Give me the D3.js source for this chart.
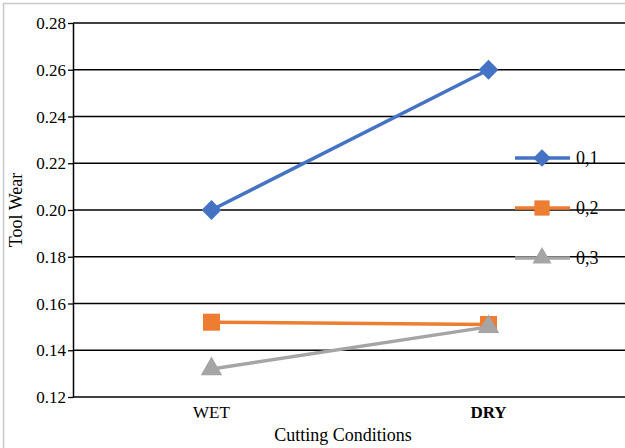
<!DOCTYPE html>
<html>
<head>
<meta charset="utf-8">
<script src="https://cdn.jsdelivr.net/npm/d3@7"></script>
</head>
<body style="margin:0;background:#fff">
<div id="chart"></div>
<script>
// Chart data
const conditions = ["WET", "DRY"];
const seriesNames = ["0,1", "0,2", "0,3"];
const wear01 = [0.200, 0.260];
const wear02 = [0.152, 0.151];
const wear03 = [0.132, 0.150];
const yTicks = [0.12, 0.14, 0.16, 0.18, 0.20, 0.22, 0.24, 0.26, 0.28];

const colours = ["#4472C4", "#ED7D31", "#A5A5A5"];
const symbols = [d3.symbolDiamond2, d3.symbolSquare, d3.symbolTriangle];
const symbolSizes = [250, 290, 200];
const FONT = '"Liberation Serif"';

const W = 625, H = 448;
const margin = {top: 23, right: -2, bottom: 51, left: 73};
const width = W - margin.left - margin.right;
const height = H - margin.top - margin.bottom;

const svg = d3.select("#chart").append("svg")
  .attr("width", W).attr("height", H);

// outer frame
svg.append("rect")
  .attr("x", 3.5).attr("y", 3.5)
  .attr("width", W + 10).attr("height", H + 10)
  .attr("fill", "none").attr("stroke", "#c8c8c8").attr("stroke-width", 1.5);

const x = d3.scalePoint().domain(conditions).range([margin.left, margin.left + width]).padding(0.5);
const y = d3.scaleLinear().domain([0.12, 0.28]).range([margin.top + height, margin.top]);

// gridlines
svg.selectAll("line.grid").data(yTicks).enter().append("line")
  .attr("class", "grid")
  .attr("x1", margin.left).attr("x2", margin.left + width)
  .attr("y1", d => y(d)).attr("y2", d => y(d))
  .attr("stroke", "#000").attr("stroke-width", 1.3);

// y axis: ticks and domain from d3, labels drawn below
const yAxis = svg.append("g").attr("transform", `translate(${margin.left},0)`)
  .call(d3.axisLeft(y).tickValues(yTicks).tickFormat("").tickSize(5).tickSizeOuter(0));
yAxis.select(".domain").attr("stroke", "#000").attr("stroke-width", 1.5);
yAxis.selectAll(".tick line").attr("stroke", "#000").attr("stroke-width", 1.3);

const fmt = d3.format(".2f");
svg.selectAll("text.ytick").data(yTicks).enter().append("text")
  .attr("class", "ytick")
  .attr("x", margin.left - 7).attr("y", d => y(d) + 6)
  .attr("text-anchor", "end")
  .style("font-family", FONT).style("font-size", "17px")
  .attr("fill", "#000")
  .text(d => fmt(d));

// x labels
svg.selectAll("text.xcat").data(conditions).enter().append("text")
  .attr("class", "xcat")
  .attr("x", d => x(d)).attr("y", margin.top + height + 21)
  .attr("text-anchor", "middle")
  .style("font-family", FONT).style("font-size", "17px")
  .style("font-weight", d => d === "DRY" ? "bold" : "normal")
  .attr("fill", "#000")
  .text(d => d);

// axis titles
svg.append("text")
  .attr("x", 343).attr("y", 441)
  .attr("text-anchor", "middle").style("font-family", FONT)
  .attr("font-size", 18).attr("fill", "#000")
  .text("Cutting Conditions");
svg.append("text")
  .attr("transform", "translate(22,210) rotate(-90)")
  .attr("text-anchor", "middle").style("font-family", FONT)
  .attr("font-size", 18).attr("fill", "#000")
  .text("Tool Wear");

// series
const allSeries = [wear01, wear02, wear03];
const line = d3.line().x((d, i) => x(conditions[i])).y(d => y(d));

allSeries.forEach((vals, s) => {
  const sg = svg.append("g");
  sg.append("path").datum(vals)
    .attr("d", line).attr("fill", "none")
    .attr("stroke", colours[s]).attr("stroke-width", 3.5);
  sg.selectAll("path.mark").data(vals).enter().append("path")
    .attr("class", "mark")
    .attr("transform", (d, i) => `translate(${x(conditions[i])},${y(d)})`)
    .attr("d", d3.symbol().type(symbols[s]).size(symbolSizes[s]))
    .attr("fill", colours[s]);
});

// legend
const legend = svg.append("g").attr("transform", "translate(515,158)");
seriesNames.forEach((name, s) => {
  const lg = legend.append("g").attr("transform", `translate(0,${s * 50})`);
  lg.append("line").attr("x1", 0).attr("x2", 55)
    .attr("stroke", colours[s]).attr("stroke-width", 3.5);
  lg.append("path").attr("transform", "translate(27,0)")
    .attr("d", d3.symbol().type(symbols[s]).size(symbolSizes[s] * 0.8))
    .attr("fill", colours[s]);
  lg.append("text").attr("x", 61).attr("y", 6)
    .style("font-family", FONT)
    .attr("font-size", 18).attr("fill", "#000").text(name);
});
</script>
</body>
</html>
